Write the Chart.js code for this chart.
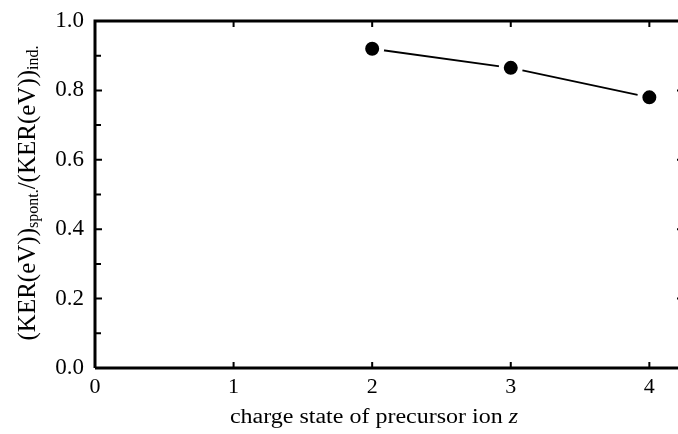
<!DOCTYPE html>
<html>
<head>
<meta charset="utf-8">
<script src="https://cdn.jsdelivr.net/npm/chart.js@4.4.1/dist/chart.umd.min.js"></script>
<style>
  html, body { margin: 0; padding: 0; background: #fff; overflow: hidden; }
  #wrap { width: 700px; height: 434px; }
</style>
</head>
<body>
<div id="wrap"><canvas id="kerChart" width="700" height="434"></canvas></div>
<script>
// charge state z vs. ratio of spontaneous to induced KER
const chargeStates = [2, 3, 4];
const kerRatio = [0.92, 0.865, 0.78];
const xTickValues = [0, 1, 2, 3, 4];
const yTickValues = [0, 0.2, 0.4, 0.6, 0.8, 1.0];

const serif = '"Liberation Serif", "DejaVu Serif", serif';

// frame, inward ticks and the two axis titles
const framePlugin = {
  id: 'frame',
  afterDraw(chart) {
    const ctx = chart.ctx;
    const a = chart.chartArea;
    const xs = chart.scales.x, ys = chart.scales.y;
    ctx.save();
    ctx.strokeStyle = '#000';
    ctx.lineWidth = 3;
    ctx.beginPath();
    ctx.moveTo(a.left, a.bottom);
    ctx.lineTo(a.left, a.top);
    ctx.lineTo(a.right, a.top);
    ctx.lineTo(a.right, a.bottom);
    ctx.lineTo(a.left, a.bottom);
    ctx.stroke();

    ctx.lineWidth = 2;
    ctx.beginPath();
    xTickValues.forEach(v => {
      const px = xs.getPixelForValue(v);
      if (v === 0) return;
      ctx.moveTo(px, a.bottom); ctx.lineTo(px, a.bottom - 6);
      ctx.moveTo(px, a.top); ctx.lineTo(px, a.top + 6);
    });
    for (let i = 1; i < 10; i++) {
      const v = i / 10;
      const py = ys.getPixelForValue(v);
      const len = i % 2 === 0 ? 7 : 6;
      ctx.moveTo(a.left, py); ctx.lineTo(a.left + len, py);
      if (i % 2 === 0) {
        ctx.moveTo(a.right, py); ctx.lineTo(a.right - 7, py);
      }
    }
    ctx.stroke();

    // x title with italic z, slightly widened
    ctx.fillStyle = '#000';
    ctx.textBaseline = 'alphabetic';
    ctx.save();
    const sx = 1.2;
    ctx.font = '20px ' + serif;
    const t1 = 'charge state of precursor ion ';
    const w1 = ctx.measureText(t1).width;
    ctx.font = 'italic 20px ' + serif;
    const w2 = ctx.measureText('z').width;
    ctx.translate(374 - (w1 + w2) * sx / 2, 423);
    ctx.scale(sx, 1);
    ctx.font = '20px ' + serif;
    ctx.fillText(t1, 0, 0);
    ctx.font = 'italic 20px ' + serif;
    ctx.fillText('z', w1, 0);
    ctx.restore();

    // rotated y title with subscripts
    const parts = [
      { t: '(KER(eV))', f: '25px ' + serif, dy: 0 },
      { t: 'spont.', f: '16px ' + serif, dy: 3 },
      { t: '/(KER(eV))', f: '25px ' + serif, dy: 0 },
      { t: 'ind.', f: '16px ' + serif, dy: 3 }
    ];
    let total = 0;
    parts.forEach(p => { ctx.font = p.f; p.w = ctx.measureText(p.t).width; total += p.w; });
    ctx.translate(35, 193);
    ctx.rotate(-Math.PI / 2);
    let cx = -total / 2;
    parts.forEach(p => {
      ctx.font = p.f;
      ctx.fillText(p.t, cx, p.dy);
      cx += p.w;
    });
    ctx.restore();
  }
};

new Chart(document.getElementById('kerChart'), {
  type: 'scatter',
  data: {
    datasets: [{
      data: chargeStates.map((z, i) => ({ x: z, y: kerRatio[i] })),
      showLine: true,
      borderColor: '#000',
      borderWidth: 1.8,
      pointRadius: 9.5,
      pointBorderWidth: 5,
      pointBackgroundColor: '#000',
      pointBorderColor: '#fff',
      pointHoverRadius: 9.5
    }]
  },
  options: {
    responsive: false,
    animation: false,
    layout: { padding: { top: 21, right: 16, left: 0, bottom: 0 } },
    plugins: { legend: { display: false }, tooltip: { enabled: false } },
    scales: {
      x: {
        type: 'linear',
        min: 0,
        max: 4.25,
        afterFit(scale) {
          scale.height = 66;
          scale.paddingLeft = 0;
          scale.paddingRight = 0;
        },
        afterBuildTicks(scale) { scale.ticks = xTickValues.map(v => ({ value: v })); },
        grid: { display: false, drawTicks: false },
        border: { display: false },
        ticks: {
          padding: 6,
          color: '#000',
          font: { family: serif, size: 22 },
          callback: v => String(v)
        }
      },
      y: {
        min: 0,
        max: 1,
        afterFit(scale) {
          scale.width = 95;
          scale.paddingTop = 0;
          scale.paddingBottom = 0;
        },
        afterBuildTicks(scale) { scale.ticks = yTickValues.map(v => ({ value: v })); },
        grid: { display: false, drawTicks: false },
        border: { display: false },
        ticks: {
          padding: 11,
          color: '#000',
          font: { family: serif, size: 23 },
          callback: v => Number(v).toFixed(1)
        }
      }
    }
  },
  plugins: [framePlugin]
});
</script>
</body>
</html>
